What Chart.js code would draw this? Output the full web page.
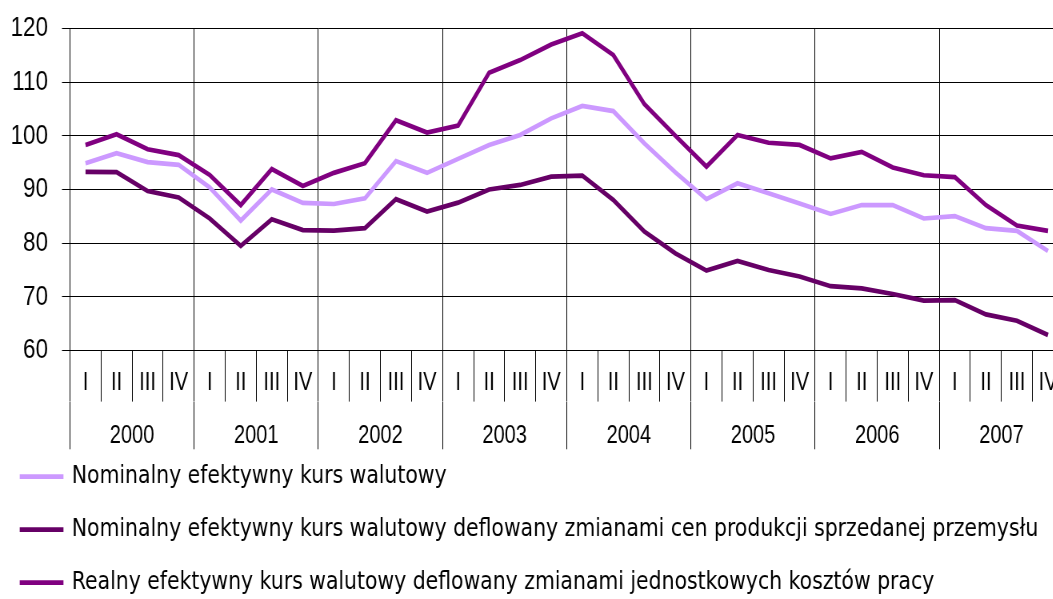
<!DOCTYPE html>
<html>
<head>
<meta charset="utf-8">
<script src="https://cdn.jsdelivr.net/npm/chart.js@4.4.1/dist/chart.umd.min.js"></script>
<style>
  html, body { margin: 0; padding: 0; background: #fff; overflow: hidden; }
  #wrap { width: 1053px; height: 599px; overflow: hidden; }
  /* oryginal ma zwezone pismo - sciskamy cale plotno w poziomie */
  #kursChart { transform: scaleX(0.8); transform-origin: 0 0; }
</style>
</head>
<body>
<div id="wrap"><canvas id="kursChart" width="1336" height="599"></canvas></div>
<script>
// kwartaly i lata
const years = ["2000", "2001", "2002", "2003", "2004", "2005", "2006", "2007"];
const quarterNames = ["I", "II", "III", "IV"];
const quarters = years.flatMap(() => quarterNames);

// indeksy kursu
const nominalny = [94.9, 96.75, 95.1, 94.6, 90.4, 84.2, 90.0, 87.5, 87.3, 88.35, 95.3, 93.1, 95.7, 98.3, 100.15, 103.25,
  105.55, 104.6, 98.6, 93.2, 88.2, 91.15, 89.3, 87.4, 85.45, 87.1, 87.1, 84.6, 85.05, 82.8, 82.3, 78.55];
const deflowanyCeny = [93.3, 93.25, 89.7, 88.5, 84.6, 79.5, 84.45, 82.45, 82.35, 82.8, 88.2, 85.9, 87.55, 90.0, 90.85, 92.4,
  92.6, 88.05, 82.15, 78.1, 74.9, 76.7, 75.0, 73.8, 72.0, 71.6, 70.55, 69.3, 69.4, 66.75, 65.55, 62.9];
const realnyKoszty = [98.3, 100.3, 97.5, 96.4, 92.7, 87.1, 93.8, 90.65, 93.1, 94.9, 102.9, 100.6, 101.9, 111.75, 114.1, 117.0,
  119.1, 115.05, 105.9, 100.0, 94.25, 100.15, 98.7, 98.3, 95.8, 97.0, 94.1, 92.65, 92.3, 87.1, 83.3, 82.3];
const yTicks = { min: 60, max: 120, step: 10 };

Chart.defaults.font.family = '"Liberation Sans", Arial, sans-serif';
Chart.defaults.color = "#000";

document.addEventListener("DOMContentLoaded", function () {
  const ctx = document.getElementById("kursChart").getContext("2d");

  new Chart(ctx, {
    type: "line",
    data: {
      labels: quarters,
      datasets: [
        {
          label: "Nominalny efektywny kurs walutowy",
          data: nominalny,
          borderColor: "#cc99ff",
          backgroundColor: "#cc99ff",
        },
        {
          label: "Nominalny efektywny kurs walutowy deflowany zmianami cen produkcji sprzedanej przemysłu",
          data: deflowanyCeny,
          borderColor: "#660066",
          backgroundColor: "#660066",
        },
        {
          label: "Realny efektywny kurs walutowy deflowany zmianami jednostkowych kosztów pracy",
          data: realnyKoszty,
          borderColor: "#800080",
          backgroundColor: "#800080",
        },
      ],
    },
    options: {
      responsive: false,
      animation: false,
      devicePixelRatio: 1,
      elements: {
        line: { borderWidth: 4.7, tension: 0, borderJoinStyle: "miter" },
        point: { radius: 0, hoverRadius: 0 },
      },
      layout: { padding: { top: 28.4, right: 6.6, bottom: -6.35, left: -0.5 } },
      scales: {
        x: {
          offset: true,
          weight: 0,
          grid: {
            offset: true,
            color: (c) => (c.index !== undefined && c.index % 4 === 0 ? "#000" : "rgba(0,0,0,0)"),
            tickColor: "#000",
            tickLength: 51,
            lineWidth: 1,
          },
          border: { display: true, color: "#000" },
          ticks: { autoSkip: false, maxRotation: 0, padding: -33.4, font: { size: 25 } },
          afterFit: (s) => { s.height = 51; },
        },
        lata: {
          type: "category",
          labels: years,
          position: "bottom",
          offset: true,
          weight: 1,
          grid: {
            offset: true,
            drawOnChartArea: false,
            color: "#000",
            tickColor: "#000",
            tickLength: 47.7,
          },
          border: { display: false },
          // mirror: etykiety lat nie sa przycinane do wysokosci osi
          ticks: { autoSkip: false, maxRotation: 0, mirror: true, padding: -49.2, font: { size: 25 } },
          afterFit: (s) => { s.height = 34.75; },
        },
        y: {
          min: yTicks.min,
          max: yTicks.max,
          grid: { color: "#000", tickColor: "#000", tickLength: 10, lineWidth: 1 },
          border: { display: true, color: "#000" },
          ticks: { stepSize: yTicks.step, padding: 17.5, font: { size: 28 } },
          afterFit: (s) => {
            s.width = 88;
            s.paddingTop = 0;
            s.paddingBottom = 0;
          },
        },
      },
      plugins: {
        tooltip: { enabled: false },
        legend: {
          position: "bottom",
          align: "start",
          labels: {
            usePointStyle: true,
            pointStyle: "line",
            pointStyleWidth: 50,
            padding: 27.5,
            font: { size: 25.5, family: '"DejaVu Sans", sans-serif' },
            color: "#000",
            generateLabels: (chart) =>
              Chart.defaults.plugins.legend.labels.generateLabels(chart).map((item, i) => {
                item.lineCap = "square";
                item.lineWidth = 4.7;
                item.strokeStyle = chart.data.datasets[i].borderColor;
                return item;
              }),
          },
        },
      },
    },
  });
});
</script>
</body>
</html>
